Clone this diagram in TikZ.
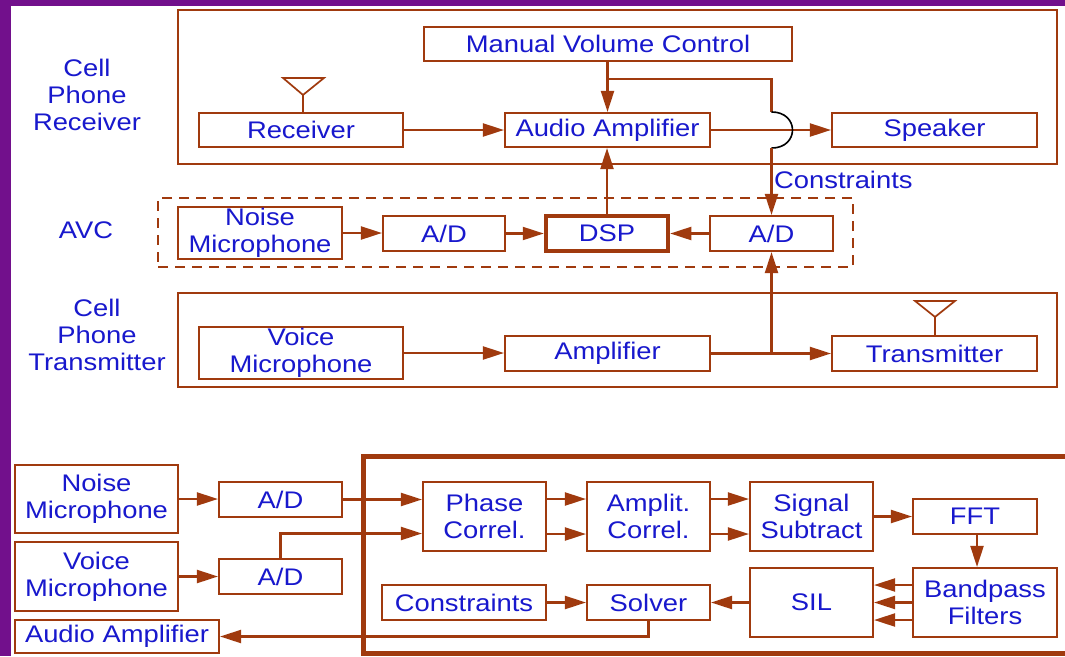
\documentclass[tikz,border=0pt]{standalone}
\usepackage{fontspec}
\setmainfont[FakeStretch=1.14]{Liberation Sans}
\usetikzlibrary{arrows.meta,calc}
\definecolor{brn}{RGB}{160,58,14}
\definecolor{txtblue}{RGB}{24,24,205}
\definecolor{slide}{RGB}{114,16,140}
\begin{document}
\begin{tikzpicture}[x=1pt,y=-1pt,
  every node/.style={font=\fontsize{24}{27}\selectfont, text=txtblue, inner sep=0pt, align=center},
  box/.style={draw=brn, line width=2.1pt, rectangle},
  frame/.style={draw=brn, line width=2pt, rectangle},
  arr/.style={draw=brn, line width=2.1pt, -{Triangle[length=21pt,width=13pt]}},
  wire/.style={draw=brn, line width=2.1pt},
  ant/.style={draw=brn, line width=1.7pt, line join=miter},
]
\clip (0,0) rectangle (1065,656);
\fill[white] (0,0) rectangle (1065,656);
\fill[slide] (0,0) rectangle (11,656);
\fill[slide] (0,0) rectangle (1065,6);

% ---------- Receiver section ----------
\node (lblR) at (87,95) {Cell\\Phone\\Receiver};
\node[frame, minimum width=879pt, minimum height=154pt] (rxframe) at (617.5,87) {};
\node[box, minimum width=368pt, minimum height=34pt] (mvc) at (608,44) {Manual Volume Control};
\node[box, minimum width=204pt, minimum height=34pt] (rcv) at (301,130) {Receiver};
\node[box, minimum width=205pt, minimum height=34pt] (aamp) at (607.5,130) {Audio Amplifier};
\node[box, minimum width=205pt, minimum height=34pt] (spk) at (934.5,130) {Speaker};

% ---------- AVC section ----------
\node (lblA) at (86,230) {AVC};
\node[frame, dash pattern=on 10pt off 7pt, minimum width=695pt, minimum height=69pt] (avcframe) at (505.5,232.5) {};
\node[box, minimum width=164pt, minimum height=52pt] (nm1) at (260,233) {Noise\\Microphone};
\node[box, minimum width=122pt, minimum height=35pt] (ad1) at (444,233.5) {A/D};
\node[box, line width=4.5pt, minimum width=122pt, minimum height=35pt] (dsp) at (607,233.5) {DSP};
\node[box, minimum width=123pt, minimum height=35pt] (ad2) at (771.5,233.5) {A/D};
\node[anchor=west] (clbl) at (774,180) {Constraints};

% ---------- Transmitter section ----------
\node (lblT) at (97,335) {Cell\\Phone\\Transmitter};
\node[frame, minimum width=879pt, minimum height=94pt] (txframe) at (617.5,340) {};
\node[box, minimum width=204pt, minimum height=52pt] (vm) at (301,353) {Voice\\Microphone};
\node[box, minimum width=205pt, minimum height=35pt] (amp) at (607.5,353.5) {Amplifier};
\node[box, minimum width=205pt, minimum height=35pt] (tx) at (934.5,353.5) {Transmitter};

% antennas
\coordinate (rcvant) at ($(rcv.north)+(2,0)$);
\draw[ant] (rcvant) -- ++(0,-17) coordinate (rap);
\draw[ant] (rap) -- ++(-20,-17) -- ++(41,0) -- cycle;
\coordinate (txant) at ($(tx.north)+(0.5,0)$);
\draw[ant] (txant) -- ++(0,-18) coordinate (tap);
\draw[ant] (tap) -- ++(-20,-16) -- ++(40,0) -- cycle;

% top connectors
\draw[arr] (rcv.east) -- (aamp.west);
\draw[arr] (aamp.north |- mvc.south) -- (aamp.north);
\coordinate (brY) at (0,79);
\coordinate (hopT) at (ad2.north |- aamp.north);
\coordinate (hopB) at (ad2.north |- aamp.south);
\draw[arr] (aamp.east) -- (spk.west);
\draw[wire] (aamp.north |- brY) -| (hopT);
\draw[black, line width=1.6pt] (hopT) .. controls +(28,0) and +(28,0) .. (hopB);
\draw[arr] (hopB) -- (ad2.north);
\draw[arr] (dsp.north) -- (dsp.north |- aamp.south);
\draw[arr] (nm1.east) -- (nm1.east -| ad1.west);
\draw[arr] (ad1.east) -- (dsp.west);
\draw[arr] (ad2.west) -- (dsp.east);
\draw[arr] (vm.east) -- (vm.east -| amp.west);
\draw[arr] (amp.east) -- (tx.west);
\draw[arr] (ad2.south |- amp.east) -- (ad2.south);

% ---------- Bottom section ----------
\draw[draw=brn, line width=5pt] (363,456) rectangle (1100,653);
\node[box, minimum width=163pt, minimum height=68pt] (nm2) at (96.5,499) {Noise\\Microphone};
\node[box, minimum width=123pt, minimum height=35pt] (bad1) at (280.5,499.5) {A/D};
\node[box, minimum width=163pt, minimum height=69pt] (vm2) at (96.5,576.5) {Voice\\Microphone};
\node[box, minimum width=123pt, minimum height=35pt] (bad2) at (280.5,576.5) {A/D};
\node[box, minimum width=204pt, minimum height=33pt] (aa2) at (117,636.5) {Audio Amplifier};
\node[box, minimum width=123pt, minimum height=69pt] (phase) at (484.5,516.5) {Phase\\Correl.};
\node[box, minimum width=123pt, minimum height=69pt] (ampl) at (648.5,516.5) {Amplit.\\Correl.};
\node[box, minimum width=123pt, minimum height=69pt] (sig) at (811.5,516.5) {Signal\\Subtract};
\node[box, minimum width=124pt, minimum height=35pt] (fft) at (975,516.5) {FFT};
\node[box, minimum width=144pt, minimum height=69pt] (bpf) at (985,602.5) {Bandpass\\Filters};
\node[box, minimum width=123pt, minimum height=69pt] (sil) at (811.5,602.5) {SIL};
\node[box, minimum width=123pt, minimum height=35pt] (solver) at (648.5,602.5) {Solver};
\node[box, minimum width=164pt, minimum height=35pt] (cons) at (464,602.5) {Constraints};

\draw[arr] (nm2.east) -- (nm2.east -| bad1.west);
\draw[arr] (vm2.east) -- (vm2.east -| bad2.west);
\draw[arr] (bad1.east) -- (bad1.east -| phase.west);
\draw[arr] (bad2.north) |- ($(phase.west)+(0,17)$);
\draw[arr] ($(phase.east)+(0,-17.5)$) -- ($(ampl.west)+(0,-17.5)$);
\draw[arr] ($(phase.east)+(0,17.5)$) -- ($(ampl.west)+(0,17.5)$);
\draw[arr] ($(ampl.east)+(0,-17.5)$) -- ($(sig.west)+(0,-17.5)$);
\draw[arr] ($(ampl.east)+(0,17.5)$) -- ($(sig.west)+(0,17.5)$);
\draw[arr] (sig.east) -- (fft.west);
\coordinate (fftout) at ($(fft.south)+(2,0)$);
\draw[arr] (fftout) -- (fftout |- bpf.north);
\draw[arr] ($(bpf.west)+(0,-17.5)$) -- ($(sil.east)+(0,-17.5)$);
\draw[arr] (bpf.west) -- (sil.east);
\draw[arr] ($(bpf.west)+(0,17.5)$) -- ($(sil.east)+(0,17.5)$);
\draw[arr] (sil.west) -- (solver.east);
\draw[arr] (cons.east) -- (solver.west);
\draw[arr] (solver.south) |- (aa2.east);
\end{tikzpicture}
\end{document}
